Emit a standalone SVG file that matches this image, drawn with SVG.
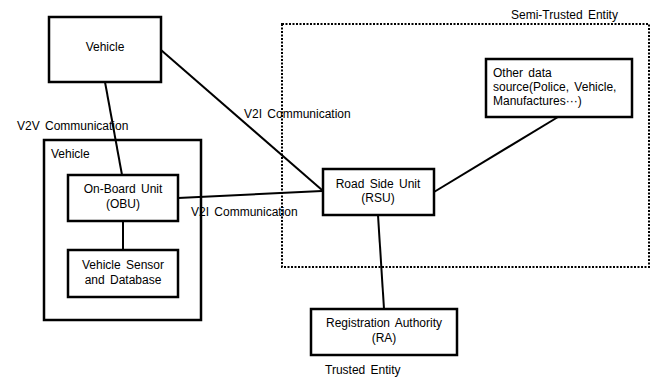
<svg xmlns="http://www.w3.org/2000/svg" width="657" height="379" viewBox="0 0 657 379">
<style>
.box{fill:#fff;stroke:#000;stroke-width:2.5}
.frame{fill:none;stroke:#000;stroke-width:2.5}
.ln{stroke:#000;stroke-width:2;fill:none}
.dot{fill:none;stroke:#000;stroke-width:2;stroke-dasharray:2 1.5}
text{font-family:"Liberation Sans",Arial,sans-serif;font-size:12px;fill:#000;word-spacing:2px}
.c{text-anchor:middle}
</style>
<rect width="657" height="379" fill="#fff"/>
<g id="semi-trusted">
<rect class="dot" x="282" y="24" width="367" height="243"/>
<text x="511" y="19">Semi-Trusted Entity</text>
</g>
<g id="connectors">
<line class="ln" x1="105" y1="82" x2="122" y2="175"/>
<line class="ln" x1="161" y1="50" x2="322" y2="190"/>
<line class="ln" x1="178" y1="198" x2="322" y2="191"/>
<line class="ln" x1="123" y1="221" x2="123" y2="250"/>
<line class="ln" x1="434" y1="192" x2="558" y2="117"/>
<line class="ln" x1="378" y1="215" x2="384" y2="309"/>
<text x="17" y="130">V2V Communication</text>
<text x="244" y="118">V2I Communication</text>
<text x="191" y="216">V2I Communication</text>
</g>
<g id="vehicle-top">
<rect class="box" x="49" y="17" width="112" height="65"/>
<text class="c" x="105" y="51">Vehicle</text>
</g>
<g id="vehicle-outer">
<rect class="frame" x="44" y="140" width="157" height="180"/>
<text x="51" y="158">Vehicle</text>
</g>
<g id="obu">
<rect class="box" x="68" y="175" width="110" height="46"/>
<text class="c" x="123" y="193">On-Board Unit</text>
<text class="c" x="123" y="208">(OBU)</text>
</g>
<g id="sensor">
<rect class="box" x="68" y="250" width="110" height="47"/>
<text class="c" x="123" y="269">Vehicle Sensor</text>
<text class="c" x="123" y="284">and Database</text>
</g>
<g id="rsu">
<rect class="box" x="323" y="169" width="111" height="46"/>
<text class="c" x="378" y="188">Road Side Unit</text>
<text class="c" x="378" y="202">(RSU)</text>
</g>
<g id="other">
<rect class="box" x="486" y="59" width="146" height="58"/>
<text x="493" y="77">Other data</text>
<text x="493" y="91">source(Police, Vehicle,</text>
<text x="493" y="105">Manufactures···)</text>
</g>
<g id="ra">
<rect class="box" x="311" y="309" width="146" height="46"/>
<text class="c" x="384" y="327">Registration Authority</text>
<text class="c" x="384" y="342">(RA)</text>
</g>
<text x="325" y="374">Trusted Entity</text>
</svg>
